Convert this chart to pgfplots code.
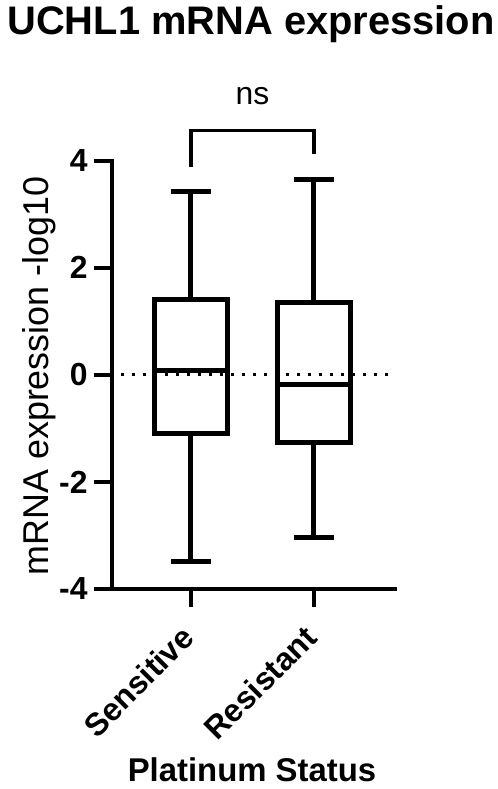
\documentclass[border=0pt]{standalone}
\usepackage{pgfplots}
\pgfplotsset{compat=1.18}
\usepgfplotslibrary{statistics}
\usepackage{fontspec}
\setmainfont{Liberation Sans}
\begin{document}
\begin{tikzpicture}
\path[use as bounding box] (0bp,0bp) rectangle (498bp,789bp);
\node[font=\bfseries\fontsize{40}{40}\selectfont, anchor=base] at (251bp,754bp) {UCHL1 mRNA expression};
\node[font=\fontsize{36}{36}\selectfont, rotate=90, anchor=base] at (48bp,413bp) {mRNA expression -log10};
\node[font=\bfseries\fontsize{33}{33}\selectfont, anchor=base] at (252bp,7.5bp) {Platinum Status};
\begin{axis}[
  at={(111.7bp,200bp)}, anchor=south west,
  scale only axis, width=283.3bp, height=428.3bp,
  xmin=0.355, xmax=2.66, ymin=-4, ymax=4,
  axis x line*=bottom, axis y line*=left,
  axis line style={line width=4bp, black, line cap=rect},
  xtick={1,2}, xticklabels={Sensitive,Resistant},
  ytick={-4,-2,0,2,4}, yticklabels={-4,-2,0,2,4},
  tick align=outside, major tick length=18bp,
  tick style={line width=4bp, black},
  yticklabel style={font=\bfseries\fontsize{32}{32}\selectfont, inner sep=0pt, xshift=-6bp},
  xticklabel style={font=\bfseries\fontsize{32}{32}\selectfont, rotate=45, anchor=east, inner sep=0pt, xshift=-19.6bp, yshift=-15.6bp},
  boxplot/draw direction=y,
  clip=false,
]
\addplot[black, line width=3bp, dash pattern=on 3bp off 8bp] coordinates {(0.43,0) (2.66,0)};
\addplot+[boxplot prepared={draw position=1, lower whisker=-3.49, lower quartile=-1.10, median=0.077, upper quartile=1.40, upper whisker=3.42, box extend=0.59, whisker extend=0.32}, black, solid, line width=5bp, mark=none] coordinates {};
\addplot+[boxplot prepared={draw position=2, lower whisker=-3.03, lower quartile=-1.27, median=-0.175, upper quartile=1.36, upper whisker=3.65, box extend=0.59, whisker extend=0.32}, black, solid, line width=5bp, mark=none] coordinates {};
\addplot[black, line width=3.5bp] coordinates {(1,3.88) (1,4.56) (2,4.56) (2,4.13)};
\node[font=\fontsize{32}{32}\selectfont, anchor=base] at (axis cs:1.5,5.05) {ns};
\end{axis}
\end{tikzpicture}
\end{document}
